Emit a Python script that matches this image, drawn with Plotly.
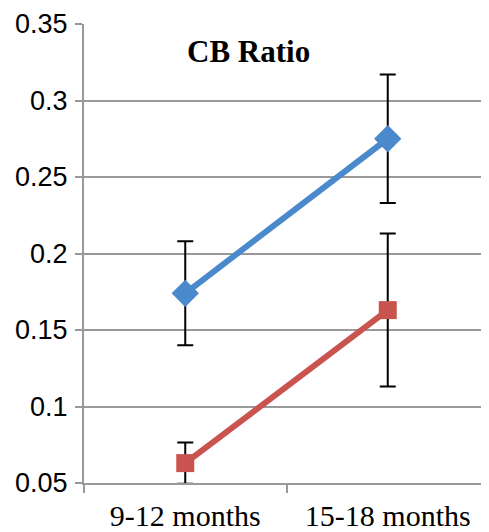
import plotly.graph_objects as go

categories = ["9-12 months", "15-18 months"]
blue_values = [0.174, 0.275]
blue_err = [0.034, 0.042]
red_values = [0.063, 0.163]
red_err = [0.0135, 0.050]
y_ticks = [0.05, 0.1, 0.15, 0.2, 0.25, 0.3, 0.35]
y_tick_text = ["0.05", "0.1", "0.15", "0.2", "0.25", "0.3", "0.35"]

fig = go.Figure()
fig.add_trace(go.Scatter(
    x=categories, y=red_values, mode="lines+markers",
    line=dict(color="#C9544F", width=6),
    marker=dict(symbol="square", size=18, color="#C9544F"),
    error_y=dict(type="data", array=red_err, color="black", thickness=2, width=8),
    showlegend=False,
))
fig.add_trace(go.Scatter(
    x=categories, y=blue_values, mode="lines+markers",
    line=dict(color="#4A89CB", width=6),
    marker=dict(symbol="diamond", size=21, color="#4A89CB"),
    error_y=dict(type="data", array=blue_err, color="black", thickness=2, width=8),
    showlegend=False,
))

fig.add_annotation(
    text="<b>CB Ratio</b>", x=0.405, xref="paper", y=0.332, yref="y",
    xanchor="center", yanchor="middle", showarrow=False,
    font=dict(family="Liberation Serif", size=31, color="black"),
)

fig.update_layout(
    width=481, height=524,
    margin=dict(l=76, r=0, t=16, b=49),
    paper_bgcolor="white", plot_bgcolor="white",
    xaxis=dict(
        type="category", range=[-0.5, 1.5], automargin=False,
        showline=True, linecolor="#999999", linewidth=2,
        ticks="outside", tickson="boundaries", ticklen=8, tickwidth=2, tickcolor="#999999",
        showgrid=False, ticklabelstandoff=5,
        tickfont=dict(family="Liberation Serif", size=30, color="black"),
    ),
    yaxis=dict(
        range=[0.05, 0.35], tickvals=y_ticks, ticktext=y_tick_text, automargin=False,
        showline=True, linecolor="#999999", linewidth=2,
        ticks="outside", ticklen=7, tickwidth=2, tickcolor="#999999",
        showgrid=True, gridcolor="#999999", gridwidth=2,
        zeroline=False, ticklabelstandoff=2,
        tickfont=dict(family="Liberation Sans", size=27, color="black"),
    ),
)

fig.write_html("out.html")
